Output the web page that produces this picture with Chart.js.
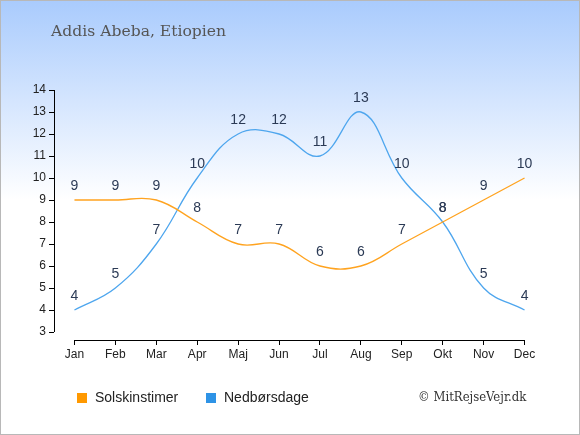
<!DOCTYPE html>
<html>
<head>
<meta charset="utf-8">
<script src="https://cdn.jsdelivr.net/npm/chart.js@4/dist/chart.umd.min.js"></script>
<style>
  body { margin: 0; background: #fff; }
  #wrap { width: 580px; height: 435px; position: relative; }
</style>
</head>
<body>
<div id="wrap"><canvas id="c" width="580" height="435"></canvas></div>
<script>
// data
const maaneder = ['Jan', 'Feb', 'Mar', 'Apr', 'Maj', 'Jun', 'Jul', 'Aug', 'Sep', 'Okt', 'Nov', 'Dec'];
const solskinstimer = [9, 9, 9, 8, 7, 7, 6, 6, 7, 8, 9, 10];
const nedboersdage = [4, 5, 7, 10, 12, 12, 11, 13, 10, 8, 5, 4];
const yTicks = [3, 4, 5, 6, 7, 8, 9, 10, 11, 12, 13, 14];

const titel = 'Addis Abeba, Etiopien';
const kilde = '\u00A9 MitRejseVejr.dk';

const orange = '#ffa31f';
const blaa = '#4ea6ee';

// baggrund, ramme, titel, akselinjer, tal og forklaring
const pynt = {
    id: 'pynt',
    beforeDraw(chart) {
        const ctx = chart.ctx;
        const g = ctx.createLinearGradient(0, 0, 0, 200);
        g.addColorStop(0, '#a9cbfd');
        g.addColorStop(1, '#ffffff');
        ctx.save();
        ctx.fillStyle = g;
        ctx.fillRect(0, 0, chart.width, chart.height);
        ctx.restore();
    },
    afterDraw(chart) {
        const ctx = chart.ctx;
        const x = chart.scales.x;
        const y = chart.scales.y;
        ctx.save();

        // akselinjer
        ctx.strokeStyle = '#000';
        ctx.lineWidth = 1;
        ctx.beginPath();
        const yx = Math.round(y.right) + 0.5;
        ctx.moveTo(yx, y.getPixelForValue(yTicks[0]));
        ctx.lineTo(yx, y.getPixelForValue(yTicks[yTicks.length - 1]));
        const xy = Math.round(x.top) + 0.5;
        ctx.moveTo(x.getPixelForValue(0), xy);
        ctx.lineTo(x.getPixelForValue(maaneder.length - 1), xy);
        ctx.stroke();

        // tal over punkterne
        ctx.fillStyle = '#2b3a55';
        ctx.font = '14px "Liberation Sans", Arial, sans-serif';
        ctx.textAlign = 'center';
        ctx.textBaseline = 'middle';
        chart.data.datasets.forEach((ds, i) => {
            chart.getDatasetMeta(i).data.forEach((pt, j) => {
                ctx.fillText(String(ds.data[j]), pt.x, pt.y - 14);
            });
        });

        // titel
        ctx.fillStyle = '#555555';
        ctx.font = '15.6px "DejaVu Serif", serif';
        ctx.textAlign = 'left';
        ctx.fillText(titel, 51, 32);

        // forklaring
        const poster = [
            { tekst: 'Solskinstimer', farve: '#ff9900', x: 77 },
            { tekst: 'Nedbørsdage', farve: '#2e93e6', x: 206 }
        ];
        ctx.font = '14px "Liberation Sans", Arial, sans-serif';
        poster.forEach(p => {
            ctx.fillStyle = p.farve;
            ctx.fillRect(p.x, 393, 10, 10);
            ctx.fillStyle = '#222';
            ctx.fillText(p.tekst, p.x + 18, 398);
        });

        // kilde
        ctx.fillStyle = '#333';
        ctx.font = '13px "DejaVu Serif Condensed", "DejaVu Serif", serif';
        ctx.fillText(kilde, 418, 398);

        // ramme
        ctx.strokeStyle = '#b8b8b8';
        ctx.strokeRect(0.5, 0.5, chart.width - 1, chart.height - 1);
        ctx.restore();
    }
};

new Chart(document.getElementById('c'), {
    type: 'line',
    data: {
        labels: maaneder,
        datasets: [{
            label: 'Solskinstimer',
            data: solskinstimer,
            borderColor: orange,
            borderWidth: 1.3,
            tension: 0.4,
            pointRadius: 0,
            fill: false
        }, {
            label: 'Nedbørsdage',
            data: nedboersdage,
            borderColor: blaa,
            borderWidth: 1.3,
            tension: 0.4,
            pointRadius: 0,
            fill: false
        }]
    },
    options: {
        responsive: false,
        animation: false,
        devicePixelRatio: 1,
        layout: { padding: { top: 90, right: 35, bottom: 70, left: 0 } },
        plugins: {
            legend: { display: false },
            tooltip: { enabled: false }
        },
        scales: {
            x: {
                offset: true,
                grid: { offset: false, drawOnChartArea: false, drawTicks: true, tickLength: 5, color: '#000' },
                border: { display: false },
                ticks: {
                    color: '#222',
                    padding: 2,
                    maxRotation: 0,
                    font: { family: '"Liberation Sans", Arial, sans-serif', size: 12 }
                },
                afterFit(scale) { scale.height = 25; }
            },
            y: {
                min: 3 - 8 / 22,
                max: 14,
                afterBuildTicks(scale) {
                    scale.ticks = yTicks.map(v => ({ value: v }));
                },
                grid: { drawOnChartArea: false, drawTicks: true, tickLength: 5, color: '#000' },
                border: { display: false },
                ticks: {
                    color: '#222',
                    padding: 3,
                    font: { family: '"Liberation Sans", Arial, sans-serif', size: 12 }
                },
                afterFit(scale) { scale.width = 54; }
            }
        }
    },
    plugins: [pynt]
});
</script>
</body>
</html>
